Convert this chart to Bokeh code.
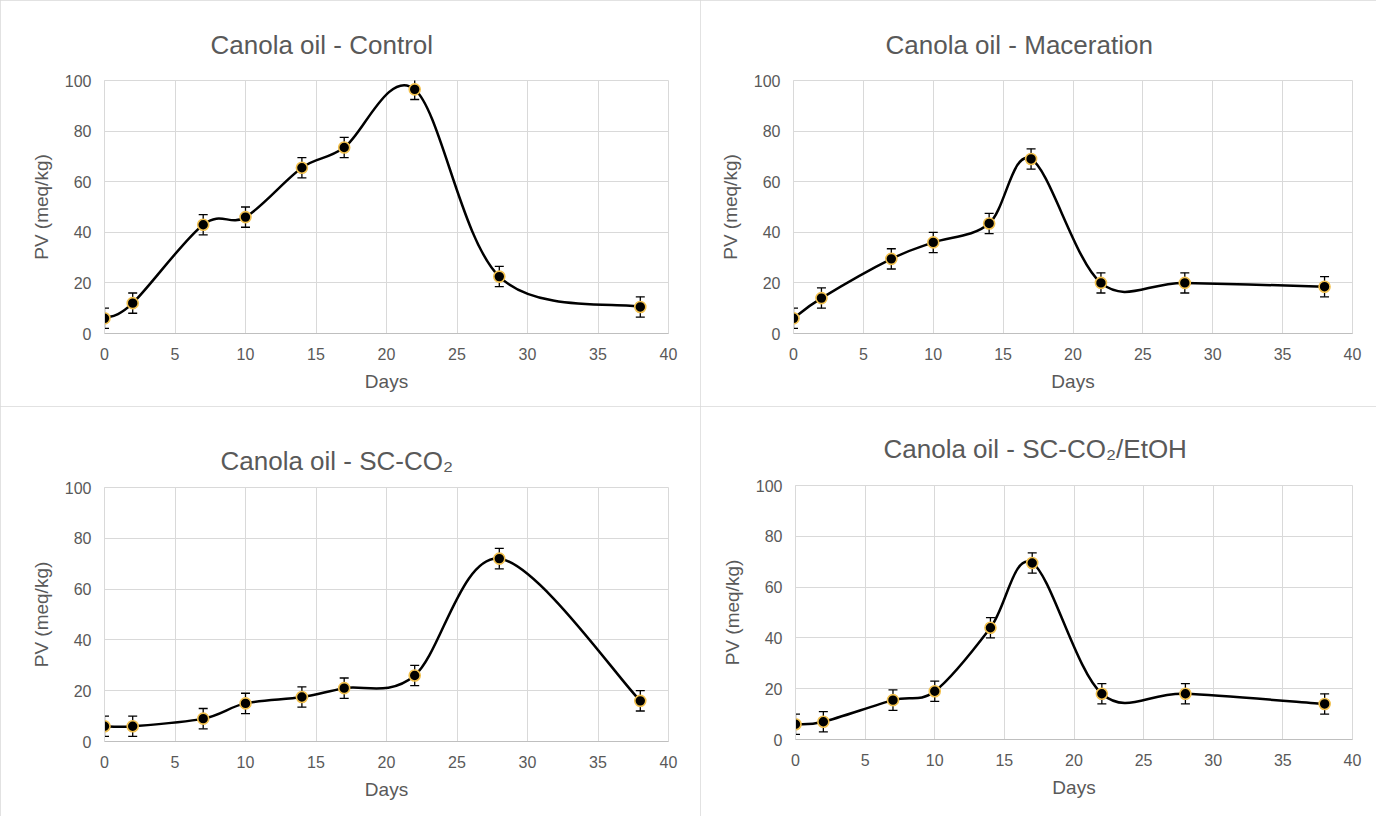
from bokeh.plotting import figure
from bokeh.models import Range1d, Whisker, ColumnDataSource, FixedTicker, TeeHead
from bokeh.layouts import column, row
from bokeh.embed import file_html
from bokeh.resources import INLINE

# ---------------- data ----------------
days = [0, 2, 7, 10, 14, 17, 22, 28, 38]

pv_control = [6, 12, 43, 46, 65.5, 73.5, 96.5, 22.5, 10.5]
err_control = [4, 4, 4, 4, 4, 4, 4, 4, 4]

pv_maceration = [6, 14, 29.5, 36, 43.5, 69, 20, 20, 18.5]
err_maceration = [4, 4, 4, 4, 4, 4, 4, 4, 4]

pv_scco2 = [6, 6, 9, 15, 17.5, 21, 26, 72, 16]
err_scco2 = [4, 4, 4, 4, 4, 4, 4, 4, 4]

pv_scco2_etoh = [6, 7, 15.5, 19, 44, 69.5, 18, 18, 14]
err_scco2_etoh = [4, 4, 4, 4, 4, 4, 4, 4, 4]

titles = [
    "Canola oil - Control",
    "Canola oil - Maceration",
    "Canola oil - SC-CO\u2082",
    "Canola oil - SC-CO\u2082/EtOH",
]
x_label = "Days"
y_label = "PV (meq/kg)"
x_ticks = [0, 5, 10, 15, 20, 25, 30, 35, 40]
y_ticks = [0, 20, 40, 60, 80, 100]

FONT = "Liberation Sans"
TXT = "#595959"
GRID = "#d9d9d9"


def smooth_segments(xs, ys):
    """Excel-like smoothed line: cubic Bezier segments (Catmull-Rom, 1/6)."""
    n = len(xs)
    seg = dict(x0=[], y0=[], x1=[], y1=[], cx0=[], cy0=[], cx1=[], cy1=[])
    for i in range(n - 1):
        xa, ya = (xs[i - 1], ys[i - 1]) if i > 0 else (xs[i], ys[i])
        xb, yb = (xs[i + 2], ys[i + 2]) if i + 2 < n else (xs[i + 1], ys[i + 1])
        seg["x0"].append(xs[i]); seg["y0"].append(ys[i])
        seg["x1"].append(xs[i + 1]); seg["y1"].append(ys[i + 1])
        seg["cx0"].append(xs[i] + (xs[i + 1] - xa) / 6.0)
        seg["cy0"].append(ys[i] + (ys[i + 1] - ya) / 6.0)
        seg["cx1"].append(xs[i + 1] - (xb - xs[i]) / 6.0)
        seg["cy1"].append(ys[i + 1] - (yb - ys[i]) / 6.0)
    return seg


def make_panel(title, ys, errs, width, height, borders, title_offset, title_standoff):
    bl, br, bt, bb = borders
    p = figure(width=width, height=height, output_backend="svg", toolbar_location=None,
               x_range=Range1d(0, 40), y_range=Range1d(0, 100),
               min_border_left=bl, min_border_right=br,
               min_border_top=bt, min_border_bottom=bb,
               title=title)
    p.title.text_font = FONT
    p.title.text_font_size = "26px"
    p.title.text_font_style = "normal"
    p.title.text_color = TXT
    p.title.align = "left"
    p.title.offset = title_offset
    p.title.standoff = title_standoff

    p.background_fill_color = "white"
    p.border_fill_color = "white"
    p.outline_line_color = GRID
    p.styles = {"outline": "1px solid #d9d9d9", "outline-offset": "-1px"}

    for ax in (p.xaxis[0], p.yaxis[0]):
        ax.major_label_text_font = FONT
        ax.major_label_text_font_size = "16px"
        ax.major_label_text_color = TXT
        ax.axis_label_text_font = FONT
        ax.axis_label_text_font_size = "19px"
        ax.axis_label_text_font_style = "normal"
        ax.axis_label_text_color = TXT
        ax.major_tick_line_color = None
        ax.minor_tick_line_color = None
        ax.major_tick_out = 0
        ax.major_tick_in = 0
    p.xaxis.major_label_standoff = 14
    p.xaxis.axis_label_standoff = 8
    p.yaxis.major_label_standoff = 13
    p.yaxis.axis_label_standoff = 10
    p.xaxis.ticker = FixedTicker(ticks=x_ticks)
    p.yaxis.ticker = FixedTicker(ticks=y_ticks)
    p.xaxis.axis_label = x_label
    p.yaxis.axis_label = y_label
    p.xaxis.axis_line_color = "#bfbfbf"
    p.yaxis.axis_line_color = GRID
    p.grid.grid_line_color = GRID
    p.grid.grid_line_width = 1

    seg = smooth_segments(days, ys)
    p.bezier(x0="x0", y0="y0", x1="x1", y1="y1", cx0="cx0", cy0="cy0", cx1="cx1", cy1="cy1",
             source=ColumnDataSource(seg), line_color="black", line_width=2.5)

    src = ColumnDataSource(dict(x=days, y=ys,
                                lo=[v - e for v, e in zip(ys, errs)],
                                hi=[v + e for v, e in zip(ys, errs)]))
    w = Whisker(base="x", lower="lo", upper="hi", source=src,
                line_color="black", line_width=1.3,
                lower_head=TeeHead(size=9, line_color="black", line_width=1.3),
                upper_head=TeeHead(size=9, line_color="black", line_width=1.3))
    p.add_layout(w)
    p.scatter("x", "y", source=src, size=11, fill_color="black",
              line_color="#f2c14e", line_width=1.6)
    return p


p1 = make_panel(titles[0], pv_control, err_control, 700, 406, (104, 32, 80, 71), 106, 42)
p2 = make_panel(titles[1], pv_maceration, err_maceration, 676, 406, (93, 24, 80, 73), 92, 42)
p3 = make_panel(titles[2], pv_scco2, err_scco2, 700, 410, (104, 32, 81, 75), 116, 24)
p4 = make_panel(titles[3], pv_scco2_etoh, err_scco2_etoh, 676, 410, (95, 24, 79, 77), 88, 44)

layout = column(row(p1, p2), row(column(p3), column(p4)))
open("out.html", "w").write(file_html(layout, INLINE))
